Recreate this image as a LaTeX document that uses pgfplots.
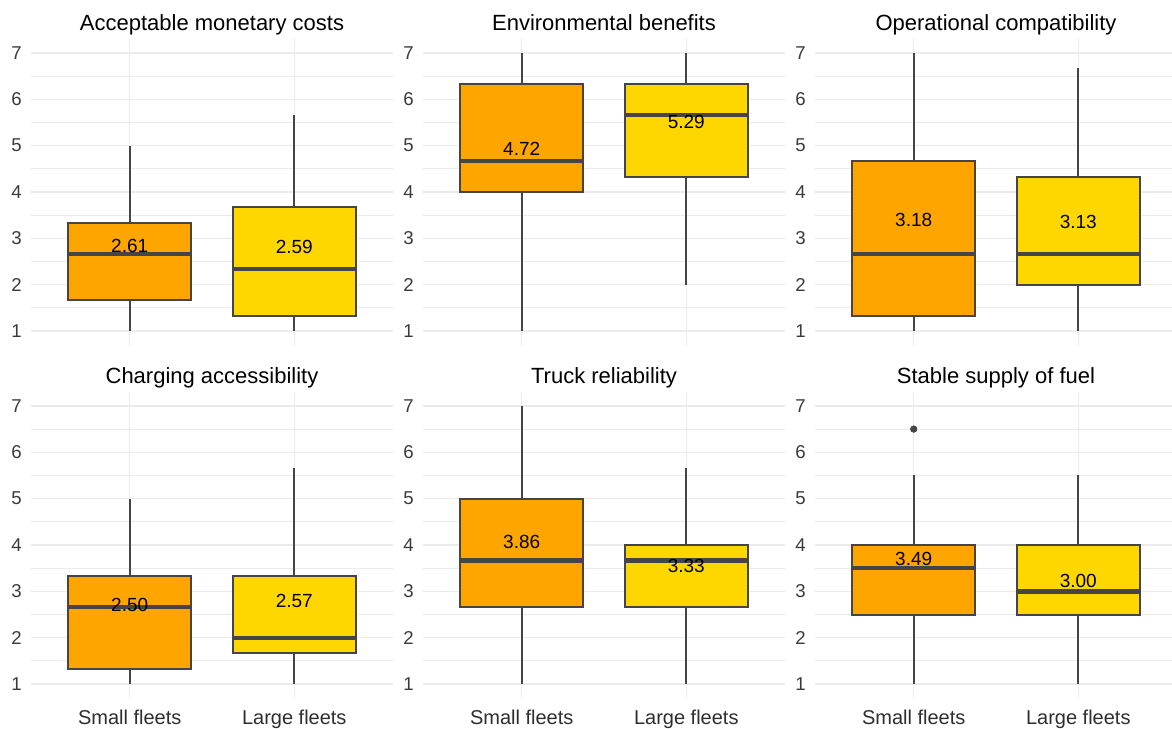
\documentclass[border=0pt]{standalone}
\usepackage{pgfplots}
\pgfplotsset{compat=1.18}
\usepgfplotslibrary{statistics}
\usepackage{fontspec}
\setmainfont{Liberation Sans}
\definecolor{orng}{HTML}{FFA500}
\definecolor{gld}{HTML}{FFD700}
\definecolor{boxline}{HTML}{454545}
\definecolor{gridc}{HTML}{EBEBEB}
\definecolor{tickc}{HTML}{3A3A3A}
\pgfplotsset{
  panel/.style={
    scale only axis, width=181pt, height=153pt, anchor=south west,
    xmin=0.4, xmax=2.6, ymin=0.7, ymax=7.3,
    axis line style={draw=none}, major tick length=0pt, minor tick length=0pt,
    tick style={draw=none},
    xtick={1,2}, ytick={1,2,3,4,5,6,7}, minor ytick={1.5,2.5,3.5,4.5,5.5,6.5},
    xmajorgrids, ymajorgrids, yminorgrids,
    major grid style={draw=gridc, line width=0.6pt},
    minor grid style={draw=gridc, line width=0.45pt},
    /pgf/number format/assume math mode=true,
    yticklabel style={font=\fontsize{9.3}{10}\selectfont, text=tickc, anchor=east, inner sep=0pt, xshift=-4.5pt},
    xticklabel style={font=\fontsize{10}{12}\selectfont, text=tickc!80!black, anchor=base, inner sep=0pt, yshift=-13pt},
    title style={font=\fontsize{11}{13}\selectfont, at={(0.5,1)}, anchor=base, yshift=-1.5pt, inner sep=0pt},
    clip=false,
  },
  bx/.style={draw=boxline, line width=1pt, solid, mark=none,
    boxplot/draw direction=y,
    boxplot/box extend=0.75, boxplot/whisker extend=0,
    boxplot/every median/.style={line width=2.2pt}},
  meanlab/.style={only marks, mark=*, mark size=0pt, mark options={draw=none, fill=none},
    nodes near coords, point meta=explicit symbolic,
    every node near coord/.append style={anchor=center, yshift=5pt, inner sep=0pt,
      font=\fontsize{9.5}{10}\selectfont, text=black}},
}
\begin{document}
\begin{tikzpicture}
\path[use as bounding box] (0,0) rectangle (586pt,364pt);

% Panel 1
\begin{axis}[panel, at={(15.5pt,191.5pt)}, title={Acceptable monetary costs}, xticklabels={,,}]
\addplot[bx, fill=orng, boxplot prepared={draw position=1, lower whisker=1, lower quartile=1.6667, median=2.6667, upper quartile=3.3333, upper whisker=5}] coordinates {};
\addplot[bx, fill=gld, boxplot prepared={draw position=2, lower whisker=1, lower quartile=1.3333, median=2.3333, upper quartile=3.6667, upper whisker=5.6667}] coordinates {};
\addplot[meanlab] coordinates {(1,2.61)[2.61] (2,2.59)[2.59]};
\end{axis}

% Panel 2
\begin{axis}[panel, at={(211.5pt,191.5pt)}, title={Environmental benefits}, xticklabels={,,}]
\addplot[bx, fill=orng, boxplot prepared={draw position=1, lower whisker=1, lower quartile=4, median=4.6667, upper quartile=6.3333, upper whisker=7}] coordinates {};
\addplot[bx, fill=gld, boxplot prepared={draw position=2, lower whisker=2, lower quartile=4.3333, median=5.6667, upper quartile=6.3333, upper whisker=7}] coordinates {};
\addplot[meanlab] coordinates {(1,4.72)[4.72] (2,5.29)[5.29]};
\end{axis}

% Panel 3
\begin{axis}[panel, at={(407.5pt,191.5pt)}, title={Operational compatibility}, xticklabels={,,}]
\addplot[bx, fill=orng, boxplot prepared={draw position=1, lower whisker=1, lower quartile=1.3333, median=2.6667, upper quartile=4.6667, upper whisker=7}] coordinates {};
\addplot[bx, fill=gld, boxplot prepared={draw position=2, lower whisker=1, lower quartile=2, median=2.6667, upper quartile=4.3333, upper whisker=6.6667}] coordinates {};
\addplot[meanlab] coordinates {(1,3.18)[3.18] (2,3.13)[3.13]};
\end{axis}

% Panel 4
\begin{axis}[panel, at={(15.5pt,15pt)}, title={Charging accessibility}, xticklabels={Small fleets,Large fleets}]
\addplot[bx, fill=orng, boxplot prepared={draw position=1, lower whisker=1, lower quartile=1.3333, median=2.6667, upper quartile=3.3333, upper whisker=5}] coordinates {};
\addplot[bx, fill=gld, boxplot prepared={draw position=2, lower whisker=1, lower quartile=1.6667, median=2, upper quartile=3.3333, upper whisker=5.6667}] coordinates {};
\addplot[meanlab] coordinates {(1,2.50)[2.50] (2,2.57)[2.57]};
\end{axis}

% Panel 5
\begin{axis}[panel, at={(211.5pt,15pt)}, title={Truck reliability}, xticklabels={Small fleets,Large fleets}]
\addplot[bx, fill=orng, boxplot prepared={draw position=1, lower whisker=1, lower quartile=2.6667, median=3.6667, upper quartile=5, upper whisker=7}] coordinates {};
\addplot[bx, fill=gld, boxplot prepared={draw position=2, lower whisker=1, lower quartile=2.6667, median=3.6667, upper quartile=4, upper whisker=5.6667}] coordinates {};
\addplot[meanlab] coordinates {(1,3.86)[3.86] (2,3.33)[3.33]};
\end{axis}

% Panel 6
\begin{axis}[panel, at={(407.5pt,15pt)}, title={Stable supply of fuel}, xticklabels={Small fleets,Large fleets}]
\addplot[bx, fill=orng, boxplot prepared={draw position=1, lower whisker=1, lower quartile=2.5, median=3.5, upper quartile=4, upper whisker=5.5}] coordinates {};
\addplot[bx, fill=gld, boxplot prepared={draw position=2, lower whisker=1, lower quartile=2.5, median=3, upper quartile=4, upper whisker=5.5}] coordinates {};
\addplot[only marks, mark=*, mark size=1.6pt, color=boxline] coordinates {(1,6.5)};
\addplot[meanlab] coordinates {(1,3.49)[3.49] (2,3.00)[3.00]};
\end{axis}
\end{tikzpicture}
\end{document}
